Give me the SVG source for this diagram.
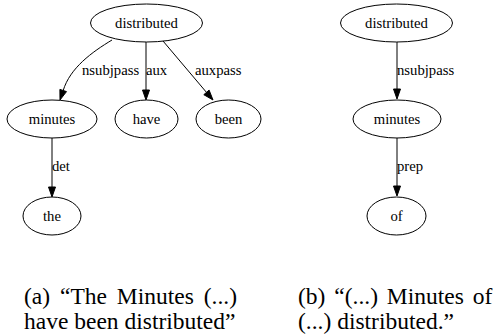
<svg xmlns="http://www.w3.org/2000/svg" width="495" height="336" viewBox="0 0 495 336">
<style>
.node ellipse{fill:none;stroke:#000;stroke-width:1}
text{font-family:'Liberation Serif','Times New Roman',Times,'Noto Serif','DejaVu Serif',serif;fill:#000}
.node text,.lbl{font-size:14.7px}
.node text{text-anchor:middle}
.edge{fill:none;stroke:#000;stroke-width:1}
.head{fill:#000;stroke:#000;stroke-width:1}
.cap{font-size:23.5px}
</style>
<rect width="495" height="336" fill="#fff"/>
<g id="connectors">
<path class="edge" d="M112,40 C92,52 70,68 63.2,90.5"/>
<polygon class="head" points="66.5,91.6 60,100 59.9,89.4"/>
<path class="edge" d="M146,42 L146,90"/>
<polygon class="head" points="142.5,90 146,100 149.5,90"/>
<path class="edge" d="M163,41 L206.5,92.4"/>
<polygon class="head" points="209.1,90.1 213,100 203.8,94.7"/>
<path class="edge" d="M52,138 L52,187"/>
<polygon class="head" points="48.5,187 52,197 55.5,187"/>
<path class="edge" d="M397,42 L397,89"/>
<polygon class="head" points="393.5,89 397,99 400.5,89"/>
<path class="edge" d="M397,138 L397,186"/>
<polygon class="head" points="393.5,186 397,196 400.5,186"/>
<text class="lbl" x="82" y="75">nsubjpass</text>
<text class="lbl" x="146" y="75">aux</text>
<text class="lbl" x="195" y="75">auxpass</text>
<text class="lbl" x="52" y="171">det</text>
<text class="lbl" x="397" y="75">nsubjpass</text>
<text class="lbl" x="397" y="171">prep</text>
</g>
<g id="a_distributed" class="node"><ellipse cx="146.5" cy="23" rx="56" ry="19"/><text x="146.5" y="28">distributed</text></g>
<g id="a_minutes" class="node"><ellipse cx="52" cy="119" rx="45" ry="19"/><text x="52" y="124">minutes</text></g>
<g id="a_have" class="node"><ellipse cx="146.5" cy="119" rx="31.5" ry="19"/><text x="146.5" y="124">have</text></g>
<g id="a_been" class="node"><ellipse cx="228.5" cy="119" rx="32.5" ry="19"/><text x="228.5" y="124">been</text></g>
<g id="a_the" class="node"><ellipse cx="52" cy="216" rx="29" ry="19"/><text x="52" y="221">the</text></g>
<g id="b_distributed" class="node"><ellipse cx="396.5" cy="23" rx="56" ry="19"/><text x="396.5" y="28">distributed</text></g>
<g id="b_minutes" class="node"><ellipse cx="397" cy="119" rx="44" ry="19"/><text x="397" y="124">minutes</text></g>
<g id="b_of" class="node"><ellipse cx="396.5" cy="216" rx="29.5" ry="19"/><text x="396.5" y="221">of</text></g>
<text class="cap" x="24" y="304" word-spacing="4">(a) “The Minutes (...)</text>
<text class="cap" x="24" y="329">have been distributed”</text>
<text class="cap" x="298" y="304" word-spacing="3">(b) “(...) Minutes of</text>
<text class="cap" x="298" y="329">(...) distributed.”</text>
</svg>
